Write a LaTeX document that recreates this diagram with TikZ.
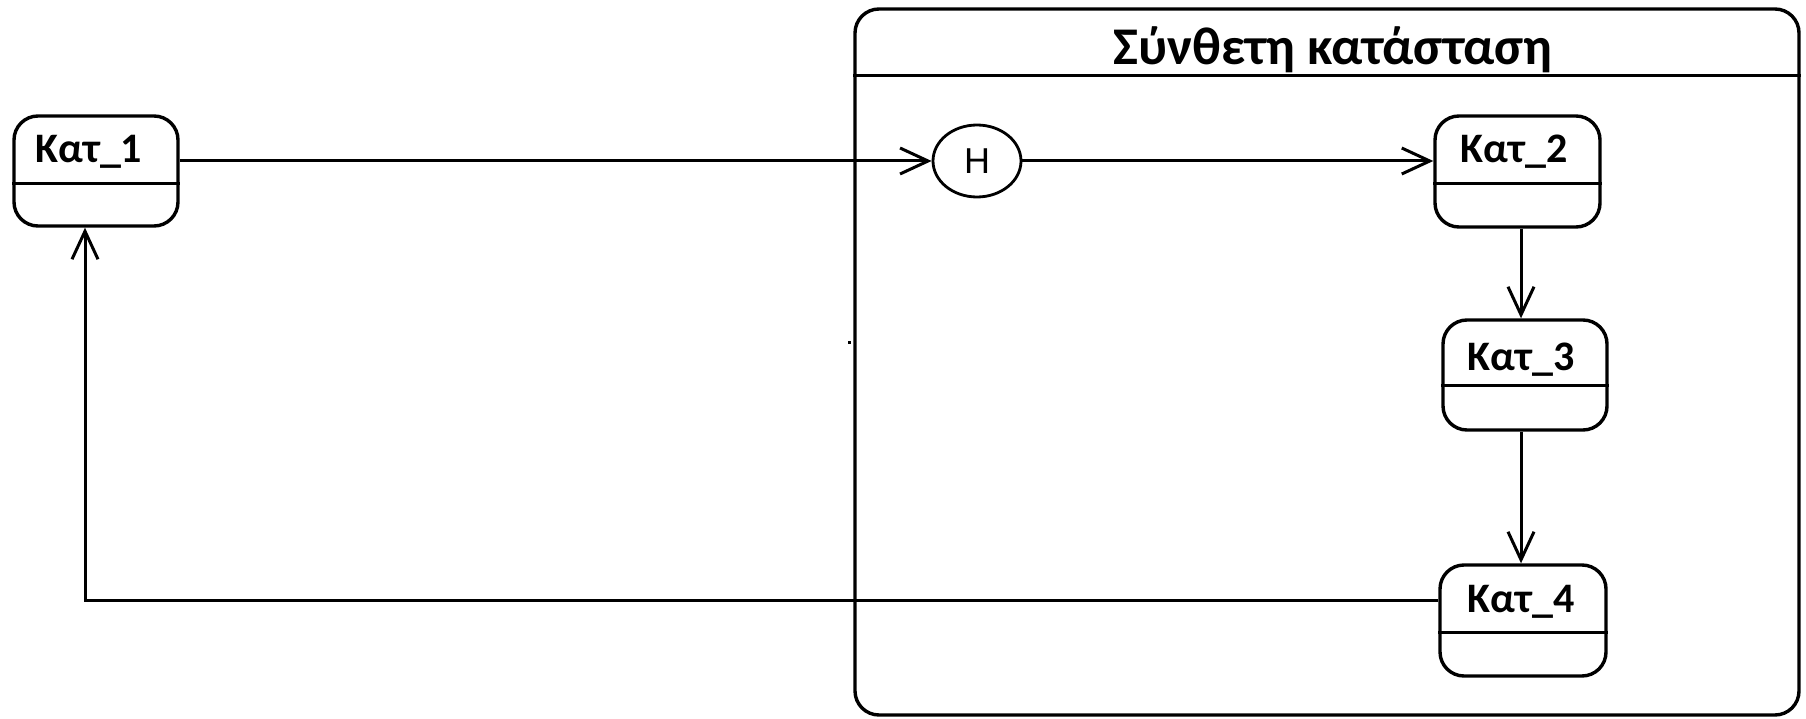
\documentclass[tikz,border=0pt]{standalone}
\usepackage{fontspec}
\newfontfamily\calib{Carlito}
\newfontfamily\hfont{Liberation Sans}
\usetikzlibrary{arrows.meta,shapes.geometric}
\tikzset{
  statebox/.style={draw=black, line width=3.4pt, rounded corners=24pt, inner sep=0pt},
  lbl/.style={font=\calib\bfseries\fontsize{42}{48}\selectfont, anchor=base, inner sep=0pt},
  conn/.style={draw=black, line width=3pt, -{Straight Barb[length=28pt,width=26pt,line width=3pt]}},
  divline/.style={draw=black, line width=3.4pt},
}
\begin{document}
\begin{tikzpicture}[x=1pt,y=-1pt]
\useasboundingbox (0,0) rectangle (1806,719);
% composite state
\node[statebox, minimum width=944pt, minimum height=706pt] (comp) at (1327,362) {};
\draw[divline] ([yshift=-68pt]comp.north west) -- ([yshift=-68pt]comp.north east);
\node[lbl, font=\calib\bfseries\fontsize{53}{60}\selectfont] (ctitle) at (1333,65) {Σύνθετη κατάσταση};
% states
\node[statebox, minimum width=164pt, minimum height=110pt] (k1) at (96,171) {};
\draw[divline] ([yshift=-69pt]k1.north west) -- ([yshift=-69pt]k1.north east);
\node[lbl] (t1) at (89,163) {Κατ\_1};
\node[statebox, minimum width=165pt, minimum height=111pt] (k2) at (1517.5,171.5) {};
\draw[divline] ([yshift=-69pt]k2.north west) -- ([yshift=-69pt]k2.north east);
\node[lbl] (t2) at (1514,163) {Κατ\_2};
\node[statebox, minimum width=164pt, minimum height=110pt] (k3) at (1525,375) {};
\draw[divline] ([yshift=-67pt]k3.north west) -- ([yshift=-67pt]k3.north east);
\node[lbl] (t3) at (1521,370) {Κατ\_3};
\node[statebox, minimum width=166pt, minimum height=111pt] (k4) at (1523,620.5) {};
\draw[divline] ([yshift=-69pt]k4.north west) -- ([yshift=-69pt]k4.north east);
\node[lbl] (t4) at (1521,612) {Κατ\_4};
% history pseudo-state
\node[draw=black, line width=2.8pt, ellipse, minimum width=88pt, minimum height=72pt, inner sep=0pt,
      font=\hfont\fontsize{36}{40}\selectfont] (h) at (977,161) {H};
% helper coordinates
\coordinate (hy) at (0,161);
\coordinate (vx) at (1521,0);
\coordinate (ry) at (0,600);
\coordinate (rx) at (85,0);
% connectors
\draw[conn] (k1.east |- hy) -- (h.west);
\draw[conn] (h.east) -- (k2.west |- h.east);
\draw[conn] (k2.south -| vx) -- (k3.north -| vx);
\draw[conn] (k3.south -| vx) -- (k4.north -| vx);
\draw[conn] (k4.west |- ry) -| (k1.south -| rx);
% stray dot
\fill[black] (847.5,340.5) rectangle (850.5,343.5);
\end{tikzpicture}
\end{document}
